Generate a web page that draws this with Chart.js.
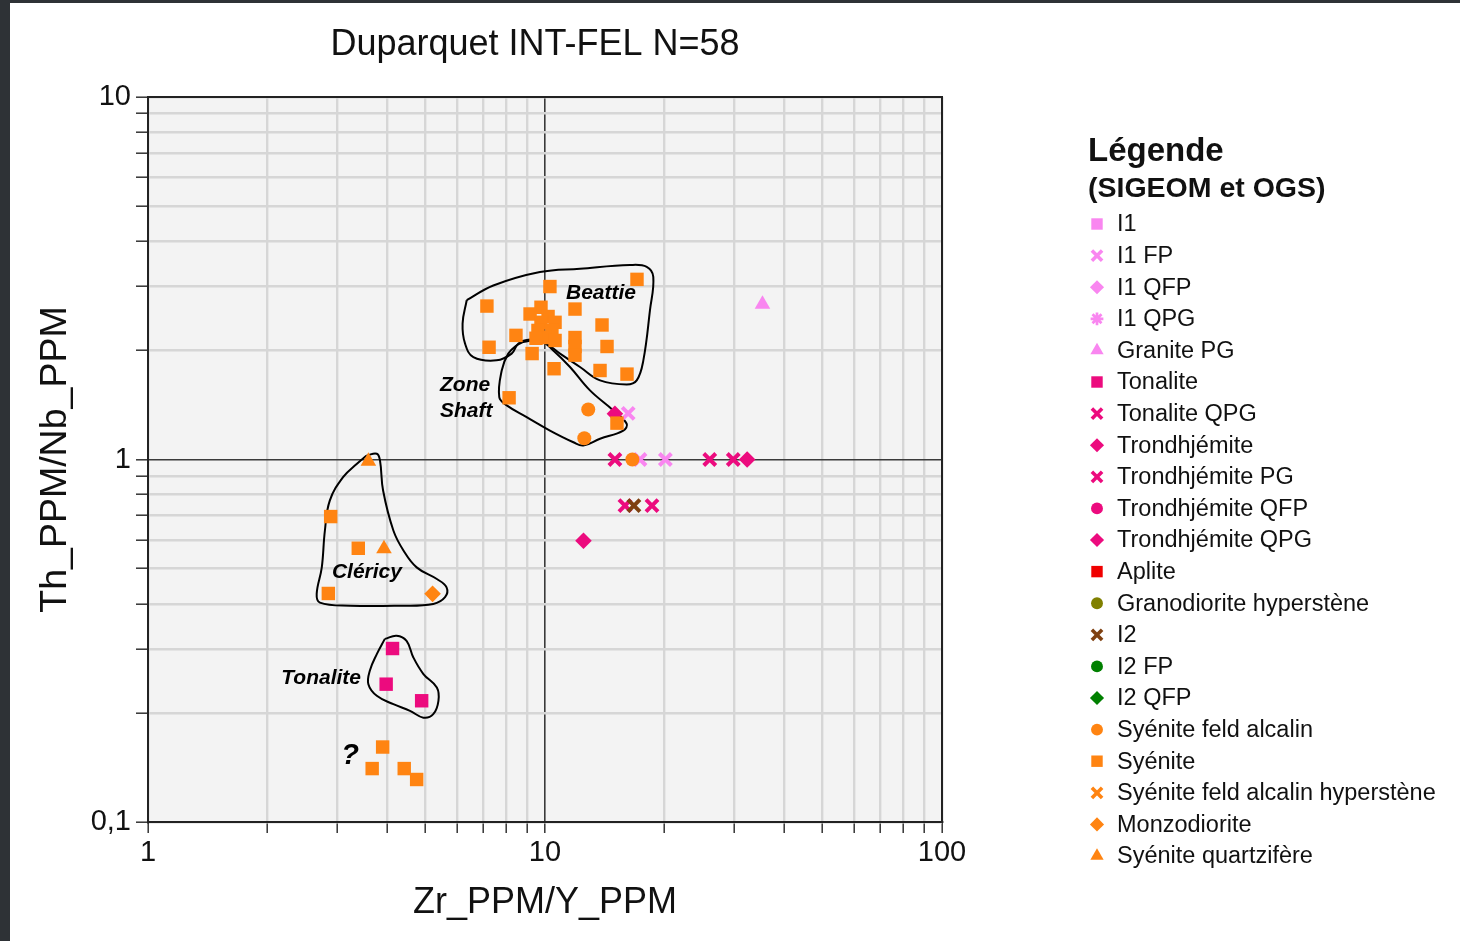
<!DOCTYPE html>
<html><head><meta charset="utf-8">
<script src="https://cdn.jsdelivr.net/npm/chart.js@4.4.1/dist/chart.umd.min.js"></script>
<style>
html,body{margin:0;padding:0;background:#2e3236;width:1460px;height:941px;overflow:hidden}
#wrap{position:absolute;left:10px;top:3px;width:1450px;height:938px;background:#fff}
canvas{display:block}
</style></head><body>
<div id="wrap"><canvas id="c" width="1450" height="938"></canvas></div>
<script>
// ---------- texts ----------
const chartTitle = 'Duparquet INT-FEL N=58';
const xAxisTitle = 'Zr_PPM/Y_PPM';
const yAxisTitle = 'Th_PPM/Nb_PPM';
const legendTitle1 = 'Légende';
const legendTitle2 = '(SIGEOM et OGS)';

// ---------- tick labels ----------
const xTickValues = [1, 10, 100];
const xTickLabels = ['1', '10', '100'];
const yTickValues = [0.1, 1, 10];
const yTickLabels = ['0,1', '1', '10'];

// ---------- categories (legend order) ----------
const categories = ['I1', 'I1 FP', 'I1 QFP', 'I1 QPG', 'Granite PG', 'Tonalite', 'Tonalite QPG',
  'Trondhjémite', 'Trondhjémite PG', 'Trondhjémite QFP', 'Trondhjémite QPG', 'Aplite',
  'Granodiorite hyperstène', 'I2', 'I2 FP', 'I2 QFP', 'Syénite feld alcalin', 'Syénite',
  'Syénite feld alcalin hyperstène', 'Monzodiorite', 'Syénite quartzifère'];

// ---------- series values: Zr/Y (x) and Th/Nb (y) ----------
const i1fpZrY = [16.2, 17.35, 20.1];
const i1fpThNb = [1.34, 1.0, 1.0];
const granitePgZrY = [35.3];
const granitePgThNb = [2.68];
const tonaliteZrY = [4.13, 3.98, 4.89];
const tonaliteThNb = [0.301, 0.240, 0.216];
const tonaliteQpgZrY = [15.0, 26.0, 29.8, 15.9, 18.6];
const tonaliteQpgThNb = [1.0, 1.0, 1.0, 0.746, 0.746];
const trondhjemiteZrY = [15.0, 32.3, 12.5];
const trondhjemiteThNb = [1.337, 1.0, 0.597];
const i2ZrY = [16.75];
const i2ThNb = [0.746];
const syeniteFaZrY = [12.85, 12.56, 16.6];
const syeniteFaThNb = [1.374, 1.145, 1.0];
const syeniteZrY = [17.05, 10.29, 7.14, 11.9, 9.77, 9.17, 10.18, 10.6, 9.77, 9.6, 10.41, 10.0, 10.6, 9.49,
  8.45, 13.92, 11.9, 7.23, 9.28, 11.9, 11.9, 14.33, 10.54, 13.76, 16.09, 8.12, 15.18,
  2.885, 3.386, 2.846, 3.90, 3.67, 4.42, 4.75];
const syeniteThNb = [3.14, 3.0, 2.65, 2.6, 2.63, 2.52, 2.48, 2.39, 2.39, 2.27, 2.27, 2.17, 2.13, 2.16,
  2.2, 2.35, 2.17, 2.04, 1.96, 2.05, 1.94, 2.05, 1.78, 1.76, 1.72, 1.48, 1.26,
  0.696, 0.569, 0.427, 0.161, 0.1404, 0.1404, 0.131];
const monzodioriteZrY = [5.21];
const monzodioriteThNb = [0.426];
const syeniteQzZrY = [3.59, 3.93];
const syeniteQzThNb = [0.989, 0.567];

// ---------- field outlines (data space) ----------
const beattieZrY = [6.35, 7.41, 9.71, 12.25, 16.37, 18.04, 18.74, 18.38, 17.69, 17.02, 16.06, 13.76, 12.25, 10.91, 9.90, 9.08, 8.56, 8.24, 7.55, 6.60, 6.29, 6.20, 6.35];
const beattieThNb = [2.75, 3.02, 3.29, 3.36, 3.44, 3.40, 3.19, 2.58, 1.877, 1.653, 1.611, 1.653, 1.80, 1.959, 2.11, 2.14, 2.087, 1.959, 1.877, 1.917, 2.087, 2.37, 2.75];
const shaftZrY = [8.82, 9.71, 10.49, 11.56, 12.98, 14.86, 16.06, 15.75, 13.76, 12.49, 11.79, 10.29, 8.99, 8.01, 7.67, 7.78, 8.08, 8.49, 8.82];
const shaftThNb = [2.11, 2.13, 2.00, 1.80, 1.551, 1.366, 1.255, 1.202, 1.141, 1.093, 1.116, 1.202, 1.309, 1.410, 1.486, 1.76, 1.959, 2.065, 2.11];
const clericyZrY = [3.555, 3.77, 3.84, 3.91, 4.15, 4.40, 4.75, 5.34, 5.65, 5.60, 5.23, 4.31, 3.23, 2.71, 2.66, 2.74, 2.79, 2.87, 3.10, 3.36, 3.555];
const clericyThNb = [1.026, 1.037, 0.994, 0.821, 0.637, 0.561, 0.504, 0.468, 0.444, 0.417, 0.3995, 0.395, 0.395, 0.403, 0.426, 0.504, 0.637, 0.770, 0.894, 0.973, 1.026];
const tonaliteFieldZrY = [3.95, 4.23, 4.48, 4.66, 4.94, 5.34, 5.39, 5.23, 4.94, 4.57, 4.15, 3.77, 3.59, 3.62, 3.77, 3.95];
const tonaliteFieldThNb = [0.320, 0.3265, 0.316, 0.2844, 0.256, 0.235, 0.216, 0.1984, 0.194, 0.2026, 0.2114, 0.2229, 0.240, 0.2614, 0.2905, 0.320];

// ---------- field labels ----------
const annotTexts = ['Beattie', 'Zone', 'Shaft', 'Cléricy', 'Tonalite', '?'];
const annotZrY = [13.84, 5.44, 5.44, 3.56, 2.73, 3.23];
const annotThNb = [2.875, 1.601, 1.357, 0.490, 0.250, 0.152];

// ---------- styles ----------
const FONT = '"Liberation Sans", Arial, Helvetica, sans-serif';
const PINK_L = '#F986F0', PINK = '#EC0B7E', ORANGE = '#FF8412';
const seriesColors = [PINK_L, PINK_L, PINK_L, PINK_L, PINK_L, PINK, PINK, PINK, PINK, PINK, PINK,
  '#F00000', '#808000', '#7F4010', '#008000', '#008000', ORANGE, ORANGE, ORANGE, ORANGE, ORANGE];
const seriesShapes = ['rect', 'crossRot', 'rectRot', 'star', 'triangle', 'rect', 'crossRot', 'rectRot',
  'crossRot', 'circle', 'rectRot', 'rect', 'circle', 'crossRot', 'circle', 'rectRot', 'circle', 'rect',
  'crossRot', 'rectRot', 'triangle'];
const shapeRadius = {rect: 9.5, crossRot: 8.5, rectRot: 8.3, circle: 7, triangle: 9, star: 7.5};
const shapeBorder = {rect: 0, crossRot: 4, rectRot: 0, circle: 0, triangle: 0, star: 3};
const legendScale = 0.85;
const annotAlign = ['center', 'left', 'left', 'center', 'center', 'center'];
const annotSize = [21, 21, 21, 21, 21, 29];

// ---------- build ----------
const seriesData = {
  'I1 FP': [i1fpZrY, i1fpThNb],
  'Granite PG': [granitePgZrY, granitePgThNb],
  'Tonalite': [tonaliteZrY, tonaliteThNb],
  'Tonalite QPG': [tonaliteQpgZrY, tonaliteQpgThNb],
  'Trondhjémite': [trondhjemiteZrY, trondhjemiteThNb],
  'I2': [i2ZrY, i2ThNb],
  'Syénite feld alcalin': [syeniteFaZrY, syeniteFaThNb],
  'Syénite': [syeniteZrY, syeniteThNb],
  'Monzodiorite': [monzodioriteZrY, monzodioriteThNb],
  'Syénite quartzifère': [syeniteQzZrY, syeniteQzThNb]
};
const toPts = (xs, ys) => xs.map((x, i) => ({x: x, y: ys[i]}));

const datasets = categories.map((name, i) => {
  const d = seriesData[name] || [[], []];
  const sh = seriesShapes[i];
  return {
    label: name,
    data: toPts(d[0], d[1]),
    pointStyle: sh,
    pointRadius: shapeRadius[sh],
    pointHoverRadius: shapeRadius[sh],
    pointBackgroundColor: seriesColors[i],
    pointBorderColor: seriesColors[i],
    pointBorderWidth: shapeBorder[sh],
    showLine: false,
    order: -i
  };
});
[[beattieZrY, beattieThNb], [shaftZrY, shaftThNb], [clericyZrY, clericyThNb], [tonaliteFieldZrY, tonaliteFieldThNb]]
  .forEach((f, k) => {
    datasets.push({
      label: 'outline' + k,
      data: toPts(f[0], f[1]),
      showLine: true,
      borderColor: '#000',
      borderWidth: 2,
      pointRadius: 0,
      pointHoverRadius: 0,
      tension: 0.4,
      fill: false,
      order: 100
    });
  });

function decadeTicks(min, max) {
  const out = [];
  for (let d = min; d < max * 0.999; d *= 10) {
    for (let k = 1; k <= 9; k++) out.push(+(d * k).toPrecision(6));
  }
  out.push(max);
  return out;
}
const gridColor = (major) => (ctx) => (ctx.tick && ctx.tick.value === major) ? '#3a3a3a' : '#d6d6d6';
const gridWidth = (major) => (ctx) => (ctx.tick && ctx.tick.value === major) ? 1.6 : 2.4;

const decor = {
  id: 'decor',
  beforeDraw(chart) {
    const {ctx, chartArea: a} = chart;
    ctx.save();
    ctx.fillStyle = '#f3f3f3';
    ctx.fillRect(a.left, a.top, a.right - a.left, a.bottom - a.top);
    ctx.restore();
  },
  afterDatasetsDraw(chart) {
    const {ctx} = chart;
    const xs = chart.scales.x, ys = chart.scales.y;
    ctx.save();
    ctx.fillStyle = '#000';
    ctx.textBaseline = 'middle';
    annotTexts.forEach((t, i) => {
      ctx.font = 'italic bold ' + annotSize[i] + 'px ' + FONT;
      ctx.textAlign = annotAlign[i];
      ctx.fillText(t, xs.getPixelForValue(annotZrY[i]), ys.getPixelForValue(annotThNb[i]));
    });
    ctx.restore();
  },
  afterDraw(chart) {
    const {ctx, chartArea: a} = chart;
    ctx.save();
    // frame
    ctx.strokeStyle = '#222';
    ctx.lineWidth = 2;
    ctx.strokeRect(a.left, a.top, a.right - a.left, a.bottom - a.top);
    // title
    ctx.fillStyle = '#111';
    ctx.textAlign = 'center';
    ctx.textBaseline = 'middle';
    ctx.font = '36px ' + FONT;
    ctx.fillText(chartTitle, (a.left + a.right) / 2 - 10, a.top - 52);
    // legend
    const L = {x: 1078, t1: 149, t2: 186, y0: 221, step: 31.6, mx: 1087, tx: 1107};
    ctx.textAlign = 'left';
    ctx.font = 'bold 33px ' + FONT;
    ctx.fillText(legendTitle1, L.x, L.t1);
    ctx.font = 'bold 28.5px ' + FONT;
    ctx.fillText(legendTitle2, L.x, L.t2);
    const H = Chart.helpers;
    categories.forEach((name, i) => {
      const yy = L.y0 + i * L.step;
      const sh = seriesShapes[i];
      ctx.fillStyle = seriesColors[i];
      ctx.strokeStyle = seriesColors[i];
      ctx.lineWidth = (shapeBorder[sh] || 1) * 0.9;
      const r = shapeRadius[sh] * legendScale;
      if (H && H.drawPoint) {
        H.drawPoint(ctx, {pointStyle: sh, radius: r, rotation: 0, borderWidth: shapeBorder[sh]}, L.mx, yy);
      } else {
        ctx.fillRect(L.mx - 6, yy - 6, 12, 12);
      }
      ctx.fillStyle = '#111';
      ctx.font = '23.5px ' + FONT;
      ctx.fillText(name, L.tx, yy + 1);
    });
    ctx.restore();
  }
};

new Chart(document.getElementById('c'), {
  type: 'scatter',
  data: {datasets: datasets},
  plugins: [decor],
  options: {
    responsive: false,
    animation: false,
    events: [],
    layout: {padding: {left: 0, top: 94, right: 518, bottom: 0}},
    plugins: {legend: {display: false}, tooltip: {enabled: false}, title: {display: false}},
    scales: {
      x: {
        type: 'logarithmic', min: 1, max: 100, position: 'bottom',
        afterBuildTicks: (s) => { s.ticks = decadeTicks(1, 100).map(v => ({value: v})); },
        afterFit: (s) => { s.height = 119; },
        ticks: {
          autoSkip: false, maxRotation: 0, minRotation: 0, padding: 3, color: '#111',
          font: {family: FONT, size: 29},
          callback: (v) => { const i = xTickValues.indexOf(v); return i >= 0 ? xTickLabels[i] : ''; }
        },
        grid: {color: gridColor(10), lineWidth: gridWidth(10), drawTicks: true, tickLength: 11, tickColor: '#333', tickWidth: 1.5},
        border: {display: true, color: '#222', width: 2},
        title: {display: true, text: xAxisTitle, color: '#111', font: {family: FONT, size: 36}, padding: {top: 0, bottom: 16}}
      },
      y: {
        type: 'logarithmic', min: 0.1, max: 10, position: 'left',
        afterBuildTicks: (s) => { s.ticks = decadeTicks(0.1, 10).map(v => ({value: v})); },
        afterFit: (s) => { s.width = 138; },
        ticks: {
          autoSkip: false, padding: 5, color: '#111',
          font: {family: FONT, size: 29},
          callback: (v) => { const i = yTickValues.indexOf(v); return i >= 0 ? yTickLabels[i] : ''; }
        },
        grid: {color: gridColor(1), lineWidth: gridWidth(1), drawTicks: true, tickLength: 12, tickColor: '#333', tickWidth: 1.5},
        border: {display: true, color: '#222', width: 2},
        title: {display: true, text: yAxisTitle, color: '#111', font: {family: FONT, size: 37.5}, padding: {top: 23, bottom: 0}}
      }
    }
  }
});
</script></body></html>
